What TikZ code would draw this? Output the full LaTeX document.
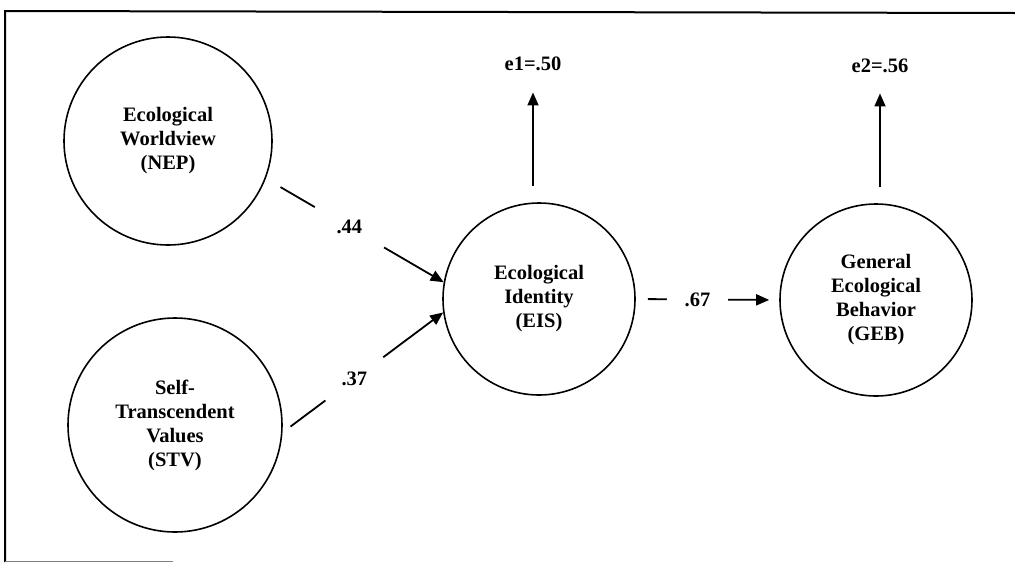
\documentclass[tikz,border=0pt]{standalone}
\usepackage{fontspec}
\setmainfont{Liberation Serif}
\usetikzlibrary{arrows.meta}
\begin{document}
\begin{tikzpicture}[x=1pt,y=-1pt,
  every node/.style={font=\fontsize{20.5}{24}\selectfont\bfseries},
  var/.style={draw, circle, line width=1.6pt, align=center, inner sep=0pt},
  arr/.style={line width=1.8pt, -{Triangle[length=13pt,width=11pt]}},
  gap/.style={circle, fill=white, inner sep=0pt},
  frame/.style={line width=2pt}]
\useasboundingbox (0,0) rectangle (1015,563);
% frame
\draw[frame] (5,562) -- (5,11) -- (1015,13);
\draw[gray, line width=1pt] (5,561) -- (173,561);
% latent variables
\node[var, minimum size=208pt] (nep) at (168,141) {Ecological\\Worldview\\(NEP)};
\node[var, minimum size=214pt] (stv) at (175,425) {Self-\\Transcendent\\Values\\(STV)};
\node[var, minimum size=192pt] (eis) at (539,299) {Ecological\\Identity\\(EIS)};
\node[var, minimum size=192pt] (geb) at (876,300) {General\\Ecological\\Behavior\\(GEB)};
% error labels
\node[anchor=base, inner sep=0pt] (e1) at (533,70) {e1=.50};
\node[anchor=base, inner sep=0pt] (e2) at (880,72) {e2=.56};
% connectors
\draw[arr, shorten <=16pt, shorten >=22pt] (eis.north -| e1.south) -- (e1.south);
\draw[arr, shorten <=16pt, shorten >=21pt] (geb.north -| e2.south) -- (e2.south);
\draw[arr, shorten <=17pt] (nep.-21) -- (eis.170.5) node[gap, minimum size=80pt, pos=0.47] {.44};
\draw[arr, shorten <=10pt] (stv.-4) -- (eis.188) node[gap, minimum size=72pt, pos=0.447] {.37};
\draw[arr, shorten <=12pt, shorten >=10pt] (eis.east) -- (geb.west) node[gap, minimum size=61pt, pos=0.43] {.67};
\end{tikzpicture}
\end{document}
